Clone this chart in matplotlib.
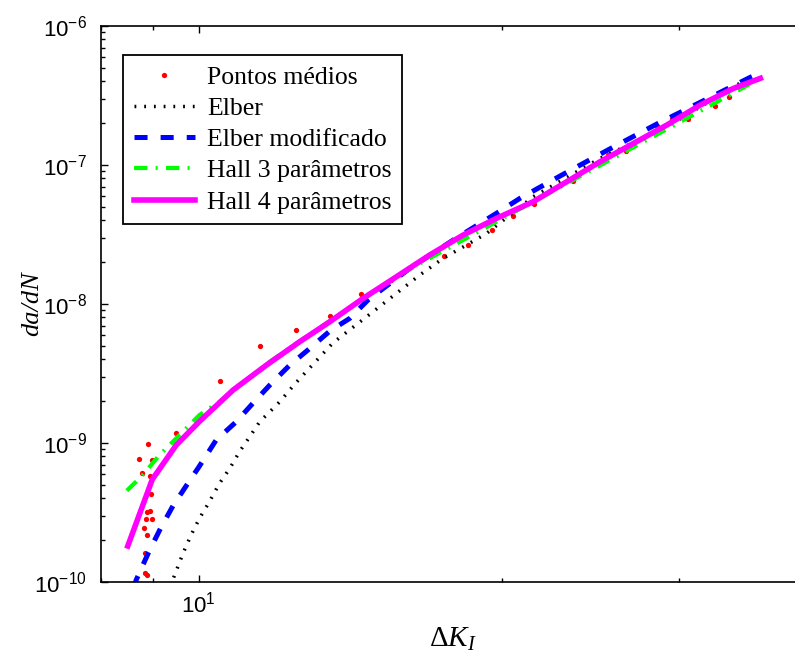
import numpy as np
import matplotlib
matplotlib.use('Agg')
import matplotlib.pyplot as plt
from matplotlib.ticker import LogLocator, NullFormatter

plt.rcParams['font.family'] = ['Liberation Sans', 'DejaVu Sans']
plt.rcParams['mathtext.fontset'] = 'custom'
plt.rcParams['mathtext.rm'] = 'Liberation Sans'
plt.rcParams['mathtext.it'] = 'Liberation Serif:italic'
plt.rcParams['mathtext.sf'] = 'Liberation Serif'
plt.rcParams['lines.scale_dashes'] = False

# averaged experimental points (Delta K, da/dN)
dk_pts = [8.736, 8.791, 8.817, 8.837, 8.852, 8.864, 8.893, 8.893, 8.893,
          8.905, 8.940, 8.954, 8.966, 8.987, 8.996, 9.502, 10.49, 11.51,
          12.49, 13.50, 14.51, 15.51, 17.53, 18.52, 19.54, 20.53, 21.54,
          23.55, 25.52, 26.58, 28.51, 29.51, 30.58, 32.58, 33.64]
dadn_pts = [7.67e-10, 6.08e-10, 2.45e-10, 1.16e-10, 1.62e-10, 2.84e-10,
            3.19e-10, 2.18e-10, 1.12e-10, 9.83e-10, 3.24e-10, 5.79e-10,
            4.30e-10, 7.55e-10, 2.84e-10, 1.18e-9, 2.79e-9, 4.99e-9,
            6.5e-9, 8.2e-9, 1.186e-8, 1.488e-8, 2.214e-8, 2.657e-8,
            3.407e-8, 4.295e-8, 5.24e-8, 7.71e-8, 1.18e-7, 1.267e-7,
            1.908e-7, 2.142e-7, 2.142e-7, 2.671e-7, 3.07e-7]

# Elber
dk_elber = [9.36, 9.42, 9.65, 9.83, 10.02, 10.25, 10.49, 10.74, 10.98, 11.24,
            11.50, 11.77, 12.04, 12.46, 13.59, 13.91, 14.90, 15.72, 16.58,
            17.49, 18.45, 19.32, 21.49, 25.04, 29.17, 34.23, 34.89]
dadn_elber = [9.3e-11, 1.022e-10, 1.609e-10, 2.178e-10, 2.872e-10, 3.78e-10,
              5.13e-10, 6.58e-10, 8.66e-10, 1.11e-9, 1.423e-9, 1.68e-9,
              1.982e-9, 2.658e-9, 5.24e-9, 5.98e-9, 8.80e-9, 1.194e-8,
              1.616e-8, 2.132e-8, 2.657e-8, 3.225e-8, 5.91e-8, 1.117e-7,
              1.886e-7, 3.762e-7, 4.09e-7]

# Elber modificado
dk_emod = [8.62, 8.67, 8.926, 9.167, 9.429, 9.758, 10.01, 10.41, 10.90, 11.32,
           11.77, 12.32, 12.84, 13.50, 14.13, 14.73, 16.21, 17.90, 19.76,
           20.85, 23.11, 25.67, 28.51, 31.71, 35.30, 36.0]
dadn_emod = [9.0e-11, 1.034e-10, 1.652e-10, 2.433e-10, 3.522e-10, 5.13e-10,
             6.75e-10, 1.051e-9, 1.423e-9, 1.93e-9, 2.615e-9, 3.64e-9,
             4.67e-9, 6.39e-9, 7.89e-9, 1.069e-8, 1.806e-8, 2.887e-8,
             4.494e-8, 5.76e-8, 8.72e-8, 1.318e-7, 1.972e-7, 2.90e-7,
             4.275e-7, 4.55e-7]

# Hall 3 parametros
dk_h3 = [8.486, 8.771, 9.146, 9.574, 10.02, 10.49, 11.68, 12.60, 15.72,
         21.49, 36.12]
dadn_h3 = [4.54e-10, 5.72e-10, 8.20e-10, 1.142e-9, 1.59e-9, 1.982e-9,
           3.7e-9, 5.4e-9, 1.58e-8, 5.45e-8, 4.2e-7]

# Hall 4 parametros
dk_h4 = [8.505, 8.996, 9.502, 10.02, 10.82, 11.68, 12.60, 13.50, 14.57,
         15.72, 16.96, 18.31, 19.76, 21.49, 23.20, 25.04, 27.03, 29.17,
         31.48, 33.97, 36.12]
dadn_h4 = [1.815e-10, 5.48e-10, 9.67e-10, 1.43e-9, 2.405e-9, 3.64e-9,
           5.355e-9, 7.46e-9, 1.099e-8, 1.572e-8, 2.252e-8, 3.136e-8,
           4.135e-8, 5.445e-8, 7.58e-8, 1.056e-7, 1.432e-7, 1.94e-7,
           2.702e-7, 3.561e-7, 4.204e-7]

fig = plt.figure(figsize=(7.95, 6.52), dpi=100)
# right spine sits just past the figure edge, as in the original crop
ax = fig.add_axes([101/795, 70/652, 704/795, 556/652])

ax.plot(dk_pts, dadn_pts, 'o', color='#ff0000', ms=3.8, mec='none',
        label='Pontos médios')
ax.plot(dk_elber, dadn_elber, color='k', lw=2.5, dashes=(1.3, 5.7),
        label='Elber')
ax.plot(dk_emod, dadn_emod, color='#0000ff', lw=3.6, dashes=(9.4, 9.4),
        label='Elber modificado')
ax.plot(dk_h3, dadn_h3, color='#00ff00', lw=3.0,
        dashes=(9.6, 6.0, 1.4, 6.0), label='Hall 3 parâmetros')
ax.plot(dk_h4, dadn_h4, color='#ff00ff', lw=4.0, label='Hall 4 parâmetros')

ax.set_xscale('log')
ax.set_yscale('log')
ax.set_xlim(8, 40)
ax.set_ylim(1e-10, 1e-6)
ax.xaxis.set_minor_formatter(NullFormatter())
ax.yaxis.set_minor_locator(LogLocator(base=10, subs=np.arange(2, 10)))
ax.yaxis.set_minor_formatter(NullFormatter())
ax.tick_params(which='both', direction='in', top=True, right=True,
               labelsize=16, width=1.0)
ax.tick_params(which='major', length=5)
ax.tick_params(which='minor', length=3)
ax.tick_params(axis='y', pad=10)
ax.tick_params(axis='x', pad=7)
for sp in ax.spines.values():
    sp.set_linewidth(1.2)

ax.set_xlabel(r'$\mathsf{\Delta}K_I$', fontsize=21, labelpad=5)
ax.set_ylabel('da/dN', fontfamily='Liberation Serif', fontstyle='italic',
              fontsize=19)
ax.yaxis.set_label_coords(-0.082, 0.5)

leg = ax.legend(loc='upper left', bbox_to_anchor=(0.031, 0.948),
                borderaxespad=0, fancybox=False, framealpha=1,
                edgecolor='k', handlelength=2.4, handletextpad=0.45,
                labelspacing=0.32, borderpad=0.42, markerscale=1.0,
                prop={'family': 'Liberation Serif', 'size': 18.5})
leg.get_frame().set_linewidth(1.3)

fig.savefig('out.png', dpi=100)
